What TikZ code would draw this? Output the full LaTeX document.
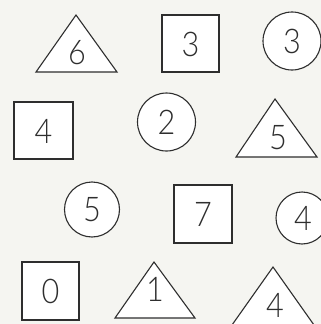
\documentclass[tikz,border=0pt]{standalone}
\usepackage{fontspec}
\setmainfont{Lato}[UprightFont=* Light]
\definecolor{bg}{HTML}{F5F5F1}
\definecolor{ink}{HTML}{2E2E2E}
\begin{document}
\begin{tikzpicture}[x=1pt,y=-1pt,
  shp/.style={draw=ink,fill=white,line width=1.1pt,line join=miter},
  num/.style={text=ink,font=\fontsize{34}{34}\selectfont,inner sep=0pt,anchor=center,xscale=0.9}]
\useasboundingbox (0,0) rectangle (321,324);
\fill[bg] (0,0) rectangle (321,324);
\begin{scope}
\clip (0,0) rectangle (321,324);
% row 1
\draw[shp] (76,15) -- (117,72) -- (36,72) -- cycle;
\node[num] (t6) at (77,53) {6};
\draw[shp] (162,15) rectangle (219,72);
\node[num] (s3) at (190.5,44) {3};
\draw[shp] (292,41) circle (29);
\node[num] (c3) at (292,41) {3};
% row 2
\draw[shp] (14,102) rectangle (73,159);
\node[num] (s4) at (43.5,131) {4};
\draw[shp] (166.5,122) circle (29);
\node[num] (c2) at (166.5,122) {2};
\draw[shp] (275,99) -- (317,157) -- (236,157) -- cycle;
\node[num] (t5) at (278,138) {5};
% row 3
\draw[shp] (92,209.5) circle (27.5);
\node[num] (c5) at (92,209.5) {5};
\draw[shp] (174,185) rectangle (232,243);
\node[num] (s7) at (203,214) {7};
\draw[shp] (302,218) circle (26);
\node[num] (c4) at (303,218) {4};
% row 4
\draw[shp] (22,262) rectangle (79,320);
\node[num] (s0) at (50.5,291) {0};
\draw[shp] (154,262) -- (195,318) -- (115,318) -- cycle;
\node[num] (t1) at (155,289) {1};
\draw[shp] (273,267) -- (314,325) -- (232,325) -- cycle;
\node[num] (t4) at (275,305) {4};
\end{scope}
\end{tikzpicture}
\end{document}
